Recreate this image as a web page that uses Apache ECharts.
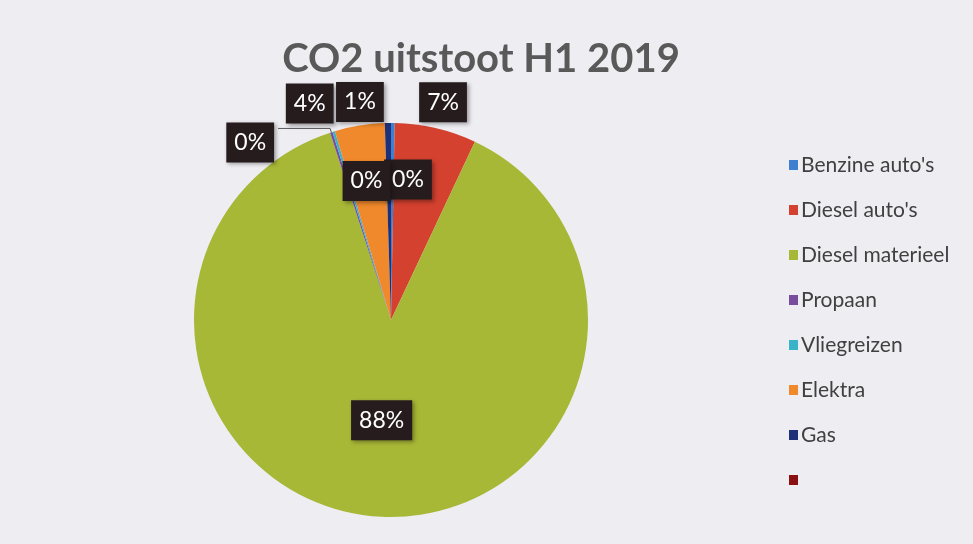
<!DOCTYPE html>
<html>
<head>
<meta charset="utf-8">
<script src="https://cdn.jsdelivr.net/npm/echarts@6/dist/echarts.min.js"></script>
<style>
html,body{margin:0;padding:0;background:#eeedf2;}
#c{width:973px;height:544px;}
</style>
</head>
<body>
<div id="c"></div>
<script>
const titleText = "CO2 uitstoot H1 2019";
const categories = ["Benzine auto's", "Diesel auto's", "Diesel materieel", "Propaan", "Vliegreizen", "Elektra", "Gas", " "];
const values = [0.3, 6.7, 88.0, 0.2, 0.2, 4.1, 0.5, 0];
const colors = ["#3d80cf", "#d4412f", "#a7b736", "#7a4c9e", "#39b3c9", "#f0892b", "#1d3079", "#8a1014"];
// label placement per slice
const labelPos = ["inside", "outside", "inside", "leader", "inside", "outside", "outside", "none"];
const labelShift = [[16, -39], [-27, -20], [-3, -1], [-4, 14], [5, -42], [-16, -16], [5, -15], [0, 0]];

const chart = echarts.init(document.getElementById('c'), null, {renderer: 'canvas'});
const data = categories.map((n, i) => {
  const item = {name: n, value: values[i], itemStyle: {color: colors[i]}};
  if (labelPos[i] === 'none') {
    item.label = {show: false};
    item.labelLine = {show: false};
  } else if (labelPos[i] === 'inside') {
    item.label = {position: 'inside'};
    item.labelLine = {show: false};
  } else if (labelPos[i] === 'leader') {
    item.label = {position: 'outside', distanceToLabelLine: 0};
    item.labelLine = {show: true, length: 4, length2: 52};
  } else {
    item.label = {position: 'outside'};
    item.labelLine = {show: false};
  }
  return item;
});

chart.setOption({
  backgroundColor: '#eeedf2',
  animation: false,
  title: {
    text: titleText,
    left: 476, top: 34, textAlign: 'center',
    textStyle: {fontFamily: 'Lato', fontWeight: 'bold', fontSize: 40, color: '#595959'}
  },
  legend: {
    orient: 'vertical',
    left: 784, top: 149,
    icon: 'rect', itemWidth: 9, itemHeight: 10,
    itemGap: 23,
    textStyle: {fontFamily: 'Lato', fontSize: 21, color: '#404040', lineHeight: 22, padding: [0, 0, 0, -2]},
    data: categories
  },
  series: [{
    type: 'pie',
    center: [391, 320],
    radius: 197,
    startAngle: 90,
    clockwise: true,
    percentPrecision: 0,
    avoidLabelOverlap: false,
    minShowLabelAngle: 0,
    label: {
      show: true,
      formatter: '{d}%',
      fontFamily: 'Lato', fontSize: 23, color: '#ffffff',
      backgroundColor: '#261c1e',
      padding: [9, 8, 8, 8],
      shadowColor: 'rgba(0,0,0,0.35)', shadowBlur: 4, shadowOffsetX: 2, shadowOffsetY: 2
    },
    labelLine: {show: true, length: 6, length2: 4, lineStyle: {color: '#5a5a5a', width: 1}},
    labelLayout: function (p) {
      const s = labelShift[p.dataIndex] || [0, 0];
      return {dx: s[0], dy: s[1]};
    },
    itemStyle: {borderWidth: 0},
    data: data
  }]
});
</script>
</body>
</html>
